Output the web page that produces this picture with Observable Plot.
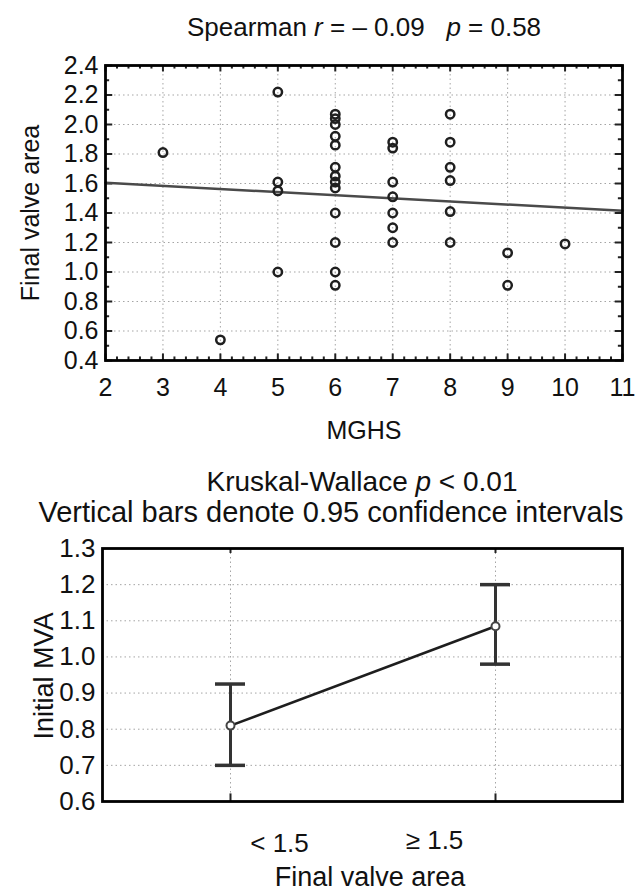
<!DOCTYPE html>
<html><head><meta charset="utf-8">
<script src="https://cdn.jsdelivr.net/npm/d3@7"></script>
<script src="https://cdn.jsdelivr.net/npm/@observablehq/plot@0.6"></script>
<style>
body{margin:0;background:#fff;font-family:"Liberation Sans",Arial,sans-serif;}
#wrap{position:relative;width:638px;height:895px;overflow:hidden;background:#fff;}
#wrap svg{position:absolute;left:0;}
.lbl{position:absolute;font-size:26px;color:#111;white-space:nowrap;transform:translate(-50%,-50%);line-height:1;}
.rot{transform:translate(-50%,-50%) rotate(-90deg);}
</style></head><body><div id="wrap"></div>
<script>
// ---- Top panel: scatter of final valve area vs MGHS ----
const mghs = [3, 4, 5, 5, 5, 5,
  6, 6, 6, 6, 6, 6, 6, 6, 6, 6, 6, 6, 6,
  7, 7, 7, 7, 7, 7, 7,
  8, 8, 8, 8, 8, 8,
  9, 9, 10];
const finalArea = [1.81, 0.54, 2.22, 1.61, 1.55, 1.00,
  2.07, 2.04, 2.00, 1.92, 1.86, 1.71, 1.65, 1.61, 1.57, 1.40, 1.20, 1.00, 0.91,
  1.88, 1.84, 1.61, 1.51, 1.40, 1.30, 1.20,
  2.07, 1.88, 1.71, 1.62, 1.41, 1.20,
  1.13, 0.91, 1.19];
const fitX = [2, 11];
const fitY = [1.605, 1.415];
const topXTicks = [2, 3, 4, 5, 6, 7, 8, 9, 10, 11];
const topYTicks = [0.4, 0.6, 0.8, 1.0, 1.2, 1.4, 1.6, 1.8, 2.0, 2.2, 2.4];
const topTitle = "Spearman <i>r</i> = \u2013 0.09&nbsp;&nbsp;&nbsp;<i>p</i> = 0.58";
const topXLabel = "MGHS";
const topYLabel = "Final valve area";

// ---- Bottom panel: means with 0.95 CI ----
const groups = ["< 1.5", "\u2265 1.5"];
const groupMean = [0.81, 1.085];
const groupLow = [0.70, 0.98];
const groupHigh = [0.925, 1.20];
const botYTicks = [0.6, 0.7, 0.8, 0.9, 1.0, 1.1, 1.2, 1.3];
const botTitle1 = "Kruskal-Wallace <i>p</i> &lt; 0.01";
const botTitle2 = "Vertical bars denote 0.95 confidence intervals";
const botXLabel = "Final valve area";
const botYLabel = "Initial MVA";

const wrap = document.getElementById("wrap");
const font = "Liberation Sans, Arial, sans-serif";
const gridStyle = {stroke: "#8f8f8f", strokeWidth: 1, strokeDasharray: "1.5,3", strokeOpacity: 0.8};

const scatter = mghs.map((x, i) => ({x, y: finalArea[i]}));
const fit = fitX.map((x, i) => ({x, y: fitY[i]}));
const xDom = [2, 11], yDom = [0.4, 2.4];
const xMinor = d3.ticks(xDom[0], xDom[1], 36);
const yMinor = d3.ticks(yDom[0], yDom[1], 20);
const xs = xDom[1] - xDom[0], ys = yDom[1] - yDom[0];

const topChart = Plot.plot({
  width: 638, height: 450,
  marginTop: 65, marginBottom: 90, marginLeft: 105, marginRight: 16,
  style: {fontFamily: font, fontSize: "25px", color: "#111", background: "transparent"},
  x: {domain: xDom},
  y: {domain: yDom},
  marks: [
    Plot.gridX(topXTicks, gridStyle),
    Plot.gridY(topYTicks, gridStyle),
    Plot.ruleX(xMinor, {y1: yDom[0], y2: d => yDom[0] + ys * (Number.isInteger(d) ? 0.022 : 0.012), stroke: "#222", strokeWidth: 2}),
    Plot.ruleX(xMinor, {y1: yDom[1], y2: d => yDom[1] - ys * (Number.isInteger(d) ? 0.022 : 0.012), stroke: "#222", strokeWidth: 2}),
    Plot.ruleY(yMinor, {x1: xDom[0], x2: (d, i) => xDom[0] + xs * (i % 2 === 0 ? 0.014 : 0.008), stroke: "#222", strokeWidth: 2}),
    Plot.ruleY(yMinor, {x1: xDom[1], x2: (d, i) => xDom[1] - xs * (i % 2 === 0 ? 0.014 : 0.008), stroke: "#222", strokeWidth: 2}),
    Plot.line(fit, {x: "x", y: "y", stroke: "#4a4a4a", strokeWidth: 2.5}),
    Plot.dot(scatter, {x: "x", y: "y", r: 4.2, stroke: "#1f1f1f", strokeWidth: 2.5, fill: "none"}),
    Plot.axisX(topXTicks, {tickSize: 0, tickPadding: 18, label: null}),
    Plot.axisY(topYTicks, {tickSize: 0, tickPadding: 7, tickFormat: d3.format(".1f"), label: null}),
    Plot.frame({stroke: "#000", strokeWidth: 2.8})
  ]
});
topChart.style.top = "0px";
wrap.appendChild(topChart);

const gData = groups.map((g, i) => ({g, m: groupMean[i], lo: groupLow[i], hi: groupHigh[i]}));
const bDom = [0.6, 1.3];
const bs = bDom[1] - bDom[0];

const botChart = Plot.plot({
  width: 638, height: 445,
  marginTop: 98, marginBottom: 94, marginLeft: 102, marginRight: 16,
  style: {fontFamily: font, fontSize: "26px", color: "#111", background: "transparent"},
  x: {type: "point", domain: groups, padding: 0.48},
  y: {domain: bDom},
  marks: [
    Plot.gridY(botYTicks.slice(1, -1), gridStyle),
    Plot.gridX(groups, gridStyle),
    Plot.ruleX(groups, {x: d => d, y1: bDom[0], y2: bDom[0] + bs * 0.03, stroke: "#222", strokeWidth: 2}),
    Plot.ruleX(groups, {x: d => d, y1: bDom[1], y2: bDom[1] - bs * 0.02, stroke: "#222", strokeWidth: 2}),
    Plot.ruleX(gData, {x: "g", y1: "lo", y2: "hi", stroke: "#333", strokeWidth: 3}),
    Plot.ruleY(gData, {y: "lo", x1: "g", x2: "g", insetLeft: -15, insetRight: -15, stroke: "#333", strokeWidth: 3.5}),
    Plot.ruleY(gData, {y: "hi", x1: "g", x2: "g", insetLeft: -15, insetRight: -15, stroke: "#333", strokeWidth: 3.5}),
    Plot.line(gData, {x: "g", y: "m", stroke: "#1e1e1e", strokeWidth: 2.6}),
    Plot.dot(gData, {x: "g", y: "m", r: 4, fill: "white", stroke: "#444", strokeWidth: 2}),
    Plot.axisY(botYTicks, {tickSize: 0, tickPadding: 7, tickFormat: d3.format(".1f"), label: null}),
    Plot.axisX([groups[0]], {tickSize: 0, tickPadding: 32, dx: 49, label: null}),
    Plot.axisX([groups[1]], {tickSize: 0, tickPadding: 29, dx: -61, label: null}),
    Plot.frame({stroke: "#000", strokeWidth: 2.8})
  ]
});
botChart.style.top = "450px";
wrap.appendChild(botChart);

function label(html, x, y, size, rot) {
  const d = document.createElement("div");
  d.className = "lbl" + (rot ? " rot" : "");
  d.innerHTML = html;
  d.style.left = x + "px";
  d.style.top = y + "px";
  d.style.fontSize = size + "px";
  wrap.appendChild(d);
}
label(topTitle, 364, 27, 26);
label(topXLabel, 364, 430, 25);
label(topYLabel, 30, 213, 25, true);
label(botTitle1, 362, 482, 28);
label(botTitle2, 331, 512, 29);
label(botXLabel, 370, 877, 27);
label(botYLabel, 44, 676, 27, true);
</script></body></html>
